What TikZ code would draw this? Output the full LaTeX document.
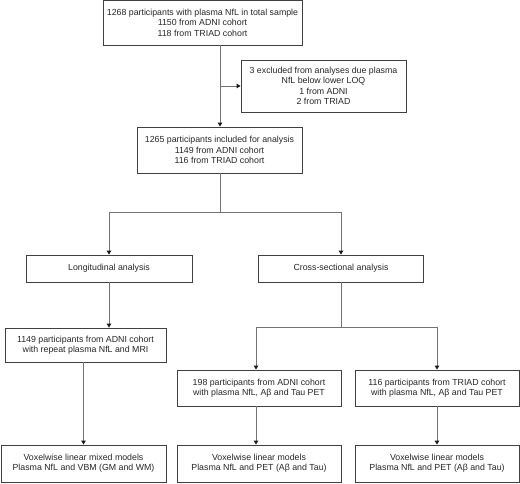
\documentclass[tikz,border=0pt]{standalone}
\usepackage{fontspec}
\setmainfont{Liberation Sans}
\usetikzlibrary{arrows.meta}
\begin{document}
\begin{tikzpicture}[x=1pt,y=-1pt,
  box/.style={draw=black!75, line width=0.9pt, rectangle, inner sep=0pt, align=center,
    font=\fontsize{8.8}{10.4}\selectfont, text=black!85},
  conn/.style={draw=black!55, line width=0.9pt},
  arr/.style={conn, -{Triangle[width=4.5pt,length=4pt,color=black!90]}}]
\useasboundingbox (0,0) rectangle (520,483);
% boxes: centre, width, height
\node[box, minimum width=199pt, minimum height=44.5pt] (A) at (202.5,22.75)
  {1268 participants with plasma NfL in total sample\\1150 from ADNI cohort\\118 from TRIAD cohort};
\node[box, minimum width=165pt, minimum height=52pt] (E) at (323.5,86)
  {3 excluded from analyses due plasma\\NfL below lower LOQ\\1 from ADNI\\2 from TRIAD};
\node[box, minimum width=165pt, minimum height=46pt] (B) at (219.5,150)
  {1265 participants included for analysis\\1149 from ADNI cohort\\116 from TRIAD cohort};
\node[box, minimum width=166pt, minimum height=27pt] (L) at (109,268.5) {Longitudinal analysis};
\node[box, minimum width=165pt, minimum height=27pt] (C) at (341,268.5) {Cross-sectional analysis};
\node[box, minimum width=161pt, minimum height=34pt] (L1) at (85.5,345)
  {1149 participants from ADNI cohort\\with repeat plasma NfL and MRI};
\node[box, minimum width=164pt, minimum height=36pt] (M1) at (259,388)
  {198 participants from ADNI cohort\\with plasma NfL, Aβ and Tau PET};
\node[box, minimum width=164pt, minimum height=36pt] (R1) at (437,388)
  {116 participants from TRIAD cohort\\with plasma NfL, Aβ and Tau PET};
\node[box, minimum width=165pt, minimum height=37pt] (BL) at (83.5,463.5)
  {Voxelwise linear mixed models\\Plasma NfL and VBM (GM and WM)};
\node[box, minimum width=164pt, minimum height=37pt] (BM) at (259,463.5)
  {Voxelwise linear models\\Plasma NfL and PET (Aβ and Tau)};
\node[box, minimum width=164pt, minimum height=37pt] (BR) at (437,463.5)
  {Voxelwise linear models\\Plasma NfL and PET (Aβ and Tau)};
% junction coordinates
\coordinate (a0) at (220,45);
\coordinate (aj) at (220,86);
\coordinate (bj) at (220,212);
\coordinate (cj) at (341,327);
% connectors
\draw[arr] (a0) -- (a0 |- B.north);
\draw[arr] (aj) -- (E.west);
\draw[conn] (B.south -| bj) -- (bj);
\draw[arr] (bj) -| (L.north);
\draw[arr] (bj) -| (C.north);
\draw[arr] (L.south) -- (L1.north -| L.south);
\draw[conn] (C.south) -- (cj);
\draw[arr] (cj) -| ([xshift=-3pt]M1.north);
\draw[arr] (cj) -| (R1.north);
\draw[arr] (L1.south -| BL.north) -- (BL.north);
\draw[arr] ([xshift=-3pt]M1.south) -- ([xshift=-3pt]BM.north);
\draw[arr] (R1.south) -- (BR.north);
\end{tikzpicture}
\end{document}
